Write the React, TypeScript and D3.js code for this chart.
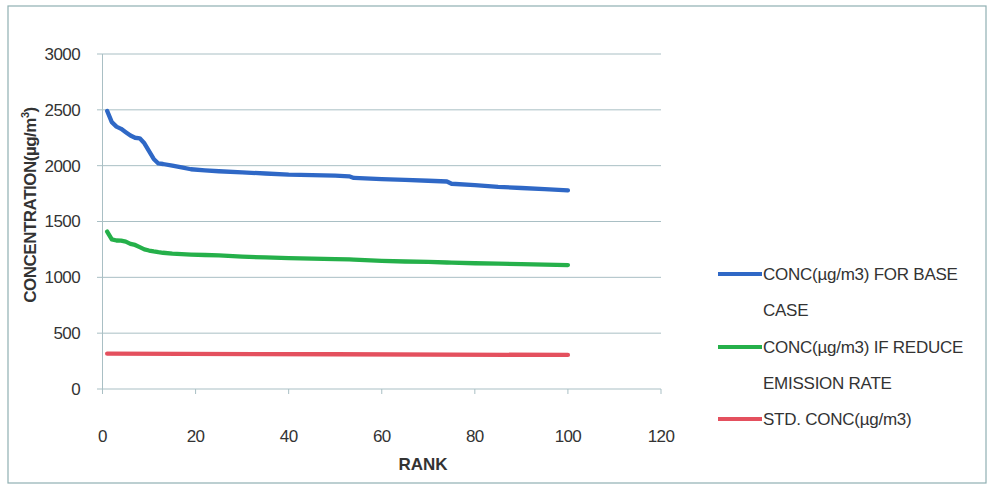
import React from "react";
import * as d3 from "d3";

const ranks = [1, 2, 3, 4, 5, 6, 7, 8, 9, 10, 11, 12, 13, 15, 17, 19, 22, 25, 30, 35, 40, 45, 50, 53, 54, 60, 65, 70, 74, 75, 80, 85, 90, 95, 100];
const baseCase = [2490, 2390, 2350, 2330, 2300, 2270, 2250, 2245, 2200, 2130, 2060, 2020, 2015, 2000, 1985, 1968, 1958, 1950, 1940, 1930, 1920, 1915, 1910, 1905, 1890, 1880, 1872, 1865, 1858, 1838, 1825, 1810, 1800, 1790, 1778];
const reduced = [1410, 1340, 1330, 1328, 1320, 1300, 1290, 1270, 1250, 1240, 1232, 1225, 1220, 1213, 1208, 1204, 1200, 1196, 1185, 1178, 1172, 1168, 1163, 1160, 1158, 1148, 1142, 1138, 1133, 1132, 1126, 1122, 1118, 1114, 1110];
const stdRanks = [1, 50, 100];
const stdConc = [316, 311, 305];

const xTicks = [0, 20, 40, 60, 80, 100, 120];
const yTicks = [0, 500, 1000, 1500, 2000, 2500, 3000];
const legendLabels = [
  ["CONC(µg/m3) FOR BASE", "CASE"],
  ["CONC(µg/m3) IF REDUCE", "EMISSION RATE"],
  ["STD. CONC(µg/m3)"],
];
const colors = ["#2f68c6", "#25b04a", "#e4505e"];

export default function App() {
  const W = 989, H = 485;
  const x = d3.scaleLinear().domain([0, 120]).range([102.5, 661]);
  const y = d3.scaleLinear().domain([0, 3000]).range([389, 54]);
  const line = d3.line<[number, number]>().x((d) => x(d[0])).y((d) => y(d[1]));
  const series: [number, number][][] = [
    ranks.map((r, i) => [r, baseCase[i]]),
    ranks.map((r, i) => [r, reduced[i]]),
    stdRanks.map((r, i) => [r, stdConc[i]]),
  ];
  const font = "'Liberation Sans', Arial, sans-serif";
  const grid = "#a9bfc4";
  const legendY = [274, 347, 419];
  return (
    <svg width={W} height={H} style={{ position: "absolute", left: 0, top: 0 }} fontFamily={font}>
      <rect x={0} y={0} width={W} height={H} fill="#fff" />
      <rect x={8} y={6} width={978} height={477} fill="none" stroke="#8fb0b2" strokeWidth={1.2} />
      {yTicks.map((t) => (
        <g key={t}>
          <line x1={97} x2={661} y1={y(t)} y2={y(t)} stroke={grid} strokeWidth={1} />
          <text x={80} y={y(t)} dy="0.35em" textAnchor="end" fontSize={17} fill="#333" letterSpacing={-0.6}>{t}</text>
        </g>
      ))}
      <line x1={x(0)} x2={x(0)} y1={y(3000)} y2={y(0) + 5} stroke={grid} strokeWidth={1} />
      {xTicks.map((t) => (
        <g key={t}>
          <line x1={x(t)} x2={x(t)} y1={y(0)} y2={y(0) + 5} stroke={grid} strokeWidth={1} />
          <text x={x(t)} y={436} dy="0.35em" textAnchor="middle" fontSize={17} fill="#333" letterSpacing={-0.6}>{t}</text>
        </g>
      ))}
      <text x={423} y={464} dy="0.35em" textAnchor="middle" fontSize={17} fontWeight="bold" fill="#333">RANK</text>
      <text transform="translate(36,205) rotate(-90)" textAnchor="middle" fontSize={17} fontWeight="bold" fill="#333" letterSpacing={-0.5}>
        CONCENTRATION(µg/m<tspan dy={-7} fontSize={11}>3</tspan><tspan dy={7}>)</tspan>
      </text>
      {series.map((s, i) => (
        <path key={i} d={line(s) || ""} fill="none" stroke={colors[i]} strokeWidth={4.3} strokeLinejoin="round" strokeLinecap="round" />
      ))}
      {legendLabels.map((lbl, i) => (
        <g key={i}>
          <line x1={718} x2={762} y1={legendY[i]} y2={legendY[i]} stroke={colors[i]} strokeWidth={4} />
          {lbl.map((l, j) => (
            <text key={j} x={763} y={legendY[i] + j * 36} dy="0.35em" fontSize={17} fill="#333" letterSpacing={-0.25}>{l}</text>
          ))}
        </g>
      ))}
    </svg>
  );
}
